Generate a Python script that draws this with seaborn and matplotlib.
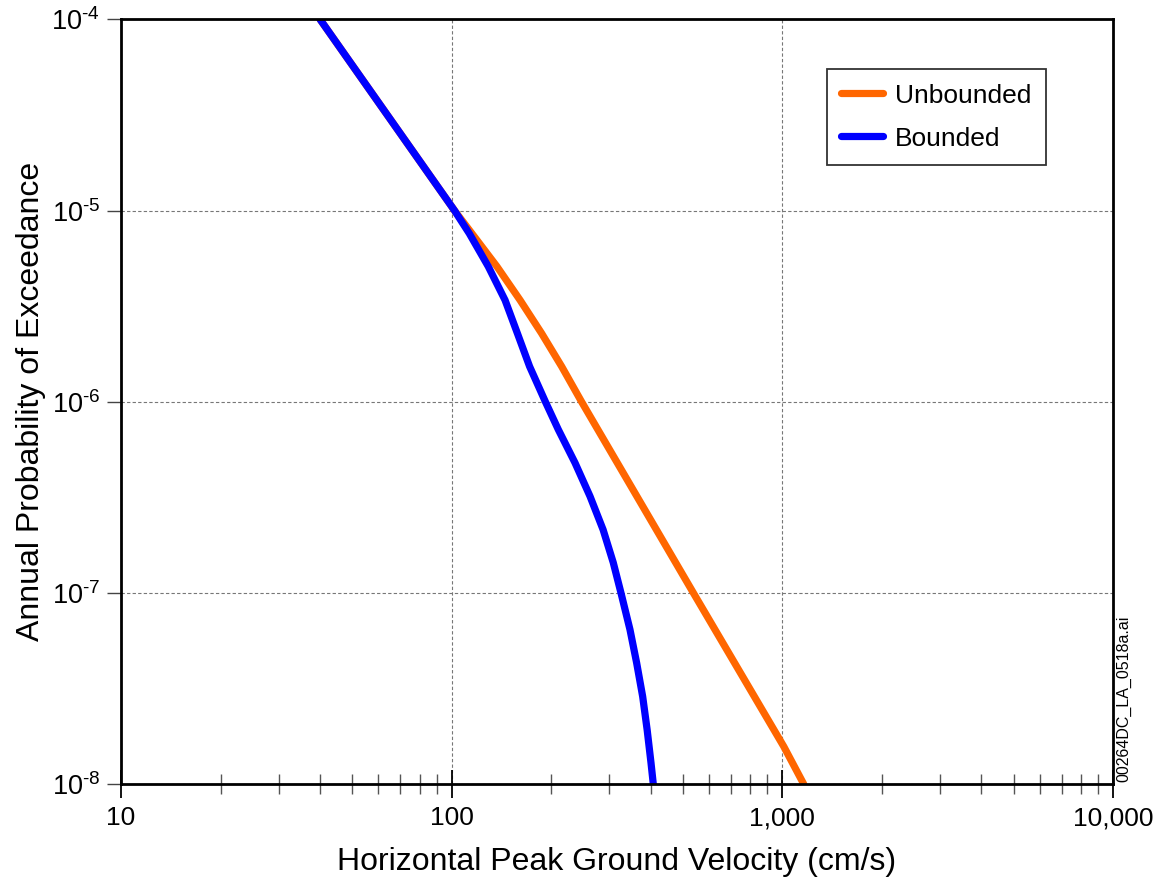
import matplotlib
matplotlib.use("Agg")
import matplotlib.pyplot as plt
import matplotlib.ticker as mticker
import numpy as np
import pandas as pd
import seaborn as sns

# ---- data ----
pgv_unbounded = [40, 102, 137, 161, 187, 215, 247, 538, 1010, 1160]
pe_unbounded = [1e-4, 1e-5, 5.1e-6, 3.4e-6, 2.28e-6, 1.53e-6, 1.0e-6, 1.0e-7,
                1.57e-8, 1.0e-8]

pgv_bounded = [40, 102, 113, 129, 145, 158, 172, 192, 210, 236, 262, 287, 308, 325,
               346, 362.5, 378, 390, 400.6, 407]
pe_bounded = [1e-4, 1e-5, 7.6e-6, 5.1e-6, 3.4e-6, 2.28e-6, 1.53e-6, 1.0e-6, 7.16e-7,
              4.79e-7, 3.2e-7, 2.14e-7, 1.44e-7, 1.0e-7, 6.43e-8, 4.3e-8, 2.87e-8,
              1.92e-8, 1.29e-8, 1.0e-8]

series_names = ["Unbounded", "Bounded"]
series_colors = ["#FF6600", "#0000FF"]

x_ticks = [10, 100, 1000, 10000]
y_ticks = [1e-8, 1e-7, 1e-6, 1e-5, 1e-4]

x_label = "Horizontal Peak Ground Velocity (cm/s)"
y_label = "Annual Probability of Exceedance"
file_tag = "00264DC_LA_0518a.ai"

df = pd.concat([
    pd.DataFrame({"pgv": pgv_unbounded, "pe": pe_unbounded, "case": series_names[0]}),
    pd.DataFrame({"pgv": pgv_bounded, "pe": pe_bounded, "case": series_names[1]}),
], ignore_index=True)

sns.set_theme(style="white")
plt.rcParams["font.family"] = ["Liberation Sans", "DejaVu Sans"]
plt.rcParams["mathtext.fontset"] = "custom"
plt.rcParams["mathtext.rm"] = "Liberation Sans"
plt.rcParams["mathtext.it"] = "Liberation Sans"
plt.rcParams["mathtext.bf"] = "Liberation Sans:bold"
plt.rcParams["mathtext.sf"] = "Liberation Sans"
plt.rcParams["text.color"] = "black"
plt.rcParams["axes.labelcolor"] = "black"
plt.rcParams["xtick.color"] = "black"
plt.rcParams["ytick.color"] = "black"

fig = plt.figure(figsize=(11.65, 8.85), dpi=100)
ax = fig.add_axes([0.1039, 0.1141, 0.8515, 0.8639])

sns.lineplot(data=df, x="pgv", y="pe", hue="case", hue_order=series_names,
             palette=dict(zip(series_names, series_colors)), sort=False,
             estimator=None, linewidth=5.2, ax=ax, legend=True)
for ln in ax.get_lines():
    ln.set_solid_joinstyle("round")

ax.set_xscale("log")
ax.set_yscale("log")
ax.set_xlim(10, 10000)
ax.set_ylim(1e-8, 1e-4)

HYPHEN = "\u2010"


def y_fmt(v, pos):
    e = abs(int(round(np.log10(v))))
    return "$\\mathregular{10^{" + HYPHEN + str(e) + "}}$"


ax.xaxis.set_major_locator(mticker.FixedLocator(x_ticks))
ax.xaxis.set_major_formatter(mticker.FuncFormatter(lambda v, p: f"{v:,.0f}"))
ax.xaxis.set_minor_locator(mticker.LogLocator(base=10, subs=np.arange(2, 10)))
ax.xaxis.set_minor_formatter(mticker.NullFormatter())

ax.yaxis.set_major_locator(mticker.FixedLocator(y_ticks))
ax.yaxis.set_major_formatter(mticker.FuncFormatter(y_fmt))
ax.yaxis.set_minor_locator(mticker.NullLocator())

ax.tick_params(axis="x", which="major", direction="inout", length=20, width=1.3,
               color="black", labelcolor="black", labelsize=19, pad=6,
               bottom=True, top=False)
ax.tick_params(axis="x", which="minor", direction="inout", length=15, width=1.0,
               color="#555555", bottom=True, top=False)
ax.tick_params(axis="y", which="major", direction="out", length=10, width=1.0,
               color="#444444", labelcolor="black", labelsize=19.5, pad=5,
               left=True, right=False)

for sp in ax.spines.values():
    sp.set_visible(True)
    sp.set_color("black")
    sp.set_linewidth(2.0)

ax.grid(True, which="major", axis="both", color="#777777", linestyle=(0, (3, 2)),
        linewidth=0.8)
ax.set_axisbelow(True)

ax.set_xlabel(x_label, fontsize=23, labelpad=12, color="black")
ax.set_ylabel(y_label, fontsize=23, labelpad=4, color="black")

handles, labels = ax.get_legend_handles_labels()
leg = ax.legend(handles, labels, loc="upper right", bbox_to_anchor=(0.9325, 0.935),
                borderaxespad=0, fontsize=19, frameon=True, fancybox=False,
                edgecolor="#333333", framealpha=1, handlelength=1.6,
                handletextpad=0.45, labelspacing=0.72, borderpad=0.55)
leg.get_frame().set_linewidth(1.3)
for ln in leg.get_lines():
    ln.set_linewidth(5.2)
for t in leg.get_texts():
    t.set_color("black")

fig.text(0.9648, 0.1164, file_tag, rotation=90, ha="center", va="bottom",
         fontsize=11.5, color="black")

fig.savefig("out.png", dpi=100, facecolor="white")
